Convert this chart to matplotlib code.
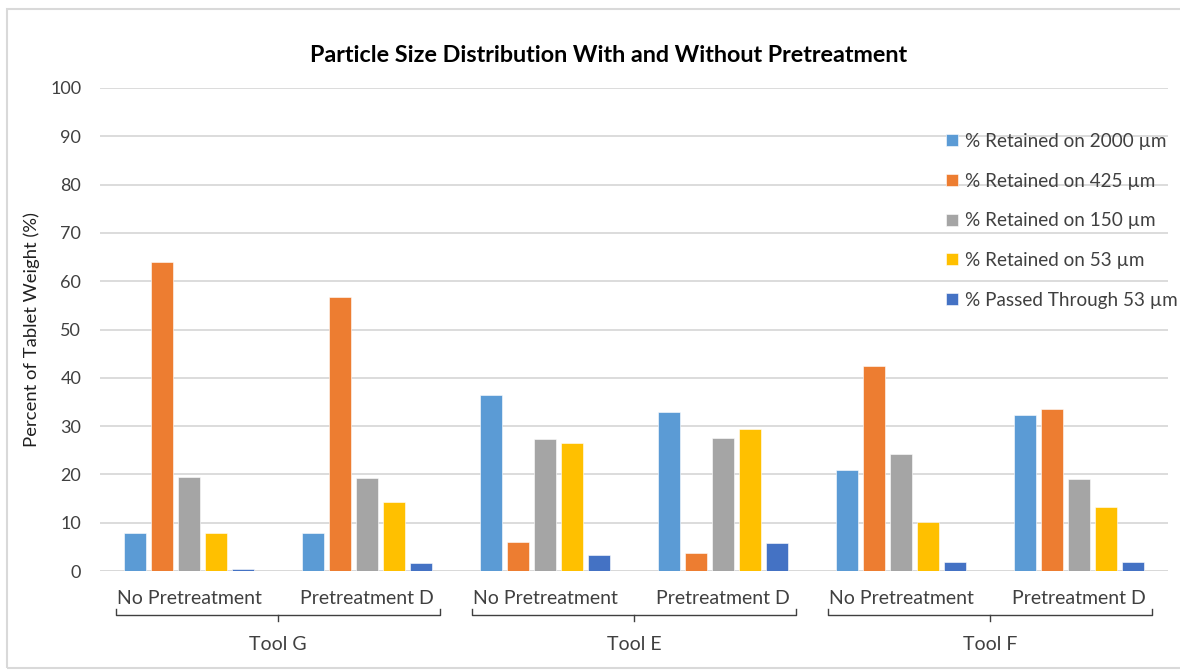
import matplotlib
matplotlib.use("Agg")
import matplotlib.pyplot as plt
from matplotlib.patches import Rectangle
from matplotlib.lines import Line2D
from matplotlib.transforms import blended_transform_factory
import numpy as np

plt.rcParams['font.family'] = ['Lato', 'DejaVu Sans']

# ---- data ----
tools = ["Tool G", "Tool E", "Tool F"]
conditions = ["No Pretreatment", "Pretreatment D"]
categories = [c for t in tools for c in conditions]
series_names = ["% Retained on 2000 µm", "% Retained on 425 µm", "% Retained on 150 µm",
                "% Retained on 53 µm", "% Passed Through 53 µm"]
r2000 = [7.9, 7.9, 36.4, 33.0, 21.0, 32.2]
r425 = [64.0, 56.7, 6.1, 3.8, 42.4, 33.5]
r150 = [19.4, 19.2, 27.3, 27.5, 24.3, 19.0]
r53 = [7.9, 14.3, 26.6, 29.5, 10.2, 13.3]
passed53 = [0.35, 1.6, 3.4, 5.7, 1.8, 1.8]
series_values = [r2000, r425, r150, r53, passed53]
colors = ["#5B9BD5", "#ED7D31", "#A5A5A5", "#FFC000", "#4472C4"]
yticks = list(range(0, 101, 10))

W, H = 1180, 671
fig = plt.figure(figsize=(W / 100, H / 100), dpi=100)
ax = fig.add_axes([100 / W, 1 - 571 / H, (1168 - 100) / W, (571 - 88) / H])

# outer chart border (right edge runs off the image)
fig.patches.append(Rectangle((7 / W, 1 - 668 / H), (1300 - 7) / W, (668 - 9) / H,
                             transform=fig.transFigure, fill=False,
                             edgecolor="#d9d9d9", linewidth=1.5, zorder=0))

x = np.arange(len(categories))
step = 0.152
width = 0.12
for i, (name, vals, col) in enumerate(zip(series_names, series_values, colors)):
    ax.bar(x + (i - 2) * step, vals, width=width, color=col, label=name, zorder=3,
           edgecolor="white", linewidth=0.4)

ax.set_xlim(-0.5, len(categories) - 0.5)
ax.set_ylim(0, 100)
ax.set_yticks(yticks)
ax.set_yticklabels([str(v) for v in yticks], fontsize=13, color="#404040")
ax.tick_params(axis='y', length=0, pad=13.5)
ax.set_xticks([])
ax.yaxis.grid(True, color="#d9d9d9", linewidth=1.3, zorder=0)
ax.set_axisbelow(True)
for s in ax.spines.values():
    s.set_visible(False)
ax.axhline(0, color="#d9d9d9", linewidth=1.3, zorder=2)

ax.set_ylabel("Percent of Tablet Weight (%)", fontsize=13.3, color="#202020", labelpad=7)

fig.text(609 / W, 1 - 55 / H, "Particle Size Distribution With and Without Pretreatment",
         ha="center", va="center", fontsize=16.8, fontweight="bold", color="#000000")

# category and group labels
trans = blended_transform_factory(ax.transData, fig.transFigure)
for xi, cat in zip(x, categories):
    ax.text(xi, 1 - 598 / H, cat, transform=trans, ha="center", va="center",
            fontsize=14, color="#404040")

yb = 1 - 615 / H
yup = 1 - 609 / H
ydn = 1 - 621 / H
inset = 0.09
for g, tool in enumerate(tools):
    x0 = 2 * g - 0.5 + inset
    x1 = 2 * g + 1.5 - inset
    xc = 2 * g + 0.5
    fig.add_artist(Line2D([x0, x0, x1, x1], [yup, yb, yb, yup], transform=trans,
                          color="#404040", linewidth=1.0))
    fig.add_artist(Line2D([xc, xc], [yb, ydn], transform=trans,
                          color="#404040", linewidth=1.0))
    ax.text(xc, 1 - 645 / H, tool, transform=trans, ha="center", va="center",
            fontsize=14, color="#404040")

leg = ax.legend(loc="upper left", bbox_to_anchor=(946 / W, 1 - 133 / H),
                bbox_transform=fig.transFigure, frameon=False, fontsize=13.6,
                handlelength=0.62, handleheight=0.62, handletextpad=0.4,
                labelspacing=1.2, borderpad=0, borderaxespad=0)
for t in leg.get_texts():
    t.set_color("#404040")

fig.savefig("out.png", dpi=100, facecolor="white")
